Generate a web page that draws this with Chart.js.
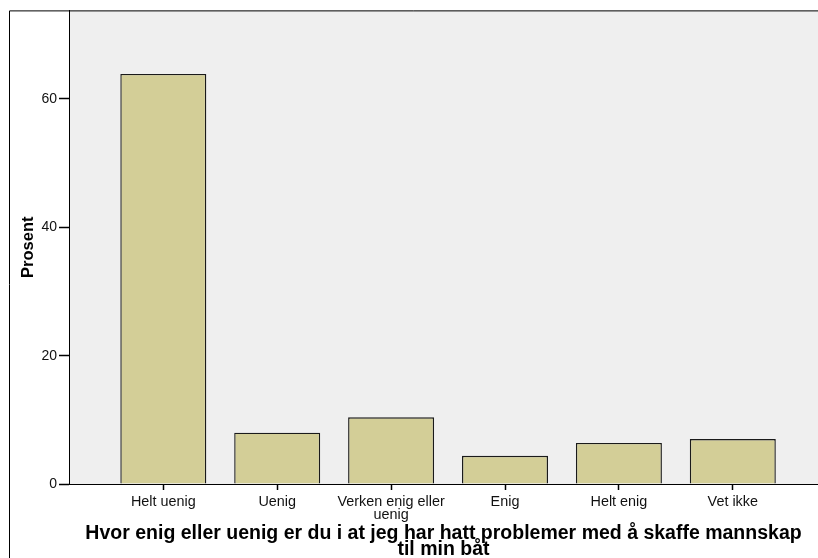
<!DOCTYPE html>
<html>
<head>
<meta charset="utf-8">
<script src="https://cdn.jsdelivr.net/npm/chart.js@4"></script>
<style>
  html, body { margin: 0; padding: 0; background: #ffffff; }
  #wrap { width: 818px; height: 558px; position: relative; }
</style>
</head>
<body>
<div id="wrap"><canvas id="c"></canvas></div>
<script>
const categories = ['Helt uenig', 'Uenig', 'Verken enig eller uenig', 'Enig', 'Helt enig', 'Vet ikke'];
const tickLabels = [['Helt uenig'], ['Uenig'], ['Verken enig eller', 'uenig'], ['Enig'], ['Helt enig'], ['Vet ikke']];
const values = [63.9, 8.0, 10.4, 4.4, 6.4, 7.0];
const yTicks = [0, 20, 40, 60];
const yTitle = 'Prosent';
const xTitle = ['Hvor enig eller uenig er du i at jeg har hatt problemer med å skaffe mannskap', 'til min båt'];

const framePlugin = {
  id: 'frame',
  beforeDraw(chart) {
    const { ctx, chartArea: a } = chart;
    ctx.save();
    ctx.fillStyle = '#efefef';
    ctx.fillRect(a.left, a.top, a.right - a.left, a.bottom - a.top);
    ctx.restore();
  },
  afterDraw(chart) {
    const { ctx, chartArea: a } = chart;
    ctx.save();
    ctx.strokeStyle = '#000';
    ctx.lineWidth = 1;
    ctx.beginPath();
    ctx.moveTo(9.5, chart.height);
    ctx.lineTo(9.5, a.top + 0.5);
    ctx.lineTo(chart.width, a.top + 0.5);
    ctx.stroke();
    ctx.restore();
  }
};

new Chart(document.getElementById('c'), {
  type: 'bar',
  data: {
    datasets: [{
      label: yTitle,
      data: values.map((v, i) => ({ x: i, y: v })),
      backgroundColor: '#d3ce97',
      borderColor: '#1a1a1a',
      borderWidth: 1.4,
      barPercentage: 0.755,
      categoryPercentage: 1
    }]
  },
  options: {
    responsive: true,
    maintainAspectRatio: false,
    animation: false,
    layout: { padding: { top: 10, right: 0, left: 0, bottom: 0 } },
    plugins: { legend: { display: false }, tooltip: { enabled: false } },
    scales: {
      x: {
        type: 'linear',
        offset: false,
        min: -0.828,
        max: 5.748,
        afterBuildTicks: s => { s.ticks = categories.map((c, i) => ({ value: i })); },
        afterFit: s => { s.height = 74; },
        grid: { offset: false, drawOnChartArea: false, tickLength: 6, color: '#000', tickWidth: 1.5 },
        border: { color: '#000', width: 1 },
        ticks: {
          autoSkip: false,
          maxRotation: 0,
          padding: 6,
          color: '#111',
          font: { family: 'Liberation Sans', size: 14.4, lineHeight: 0.9 },
          callback: (v) => tickLabels[v] || ''
        },
        title: {
          display: true,
          text: xTitle,
          color: '#000',
          padding: { top: 0, bottom: 1 },
          font: { family: 'Liberation Sans', size: 19.5, weight: 'bold', lineHeight: 0.8 }
        }
      },
      y: {
        min: 0,
        max: 73.8,
        afterBuildTicks: s => { s.ticks = yTicks.map(v => ({ value: v })); },
        afterFit: s => { s.width = 69; },
        grid: { drawOnChartArea: false, tickLength: 10, color: '#000', tickWidth: 1.5 },
        border: { color: '#000', width: 1 },
        ticks: {
          padding: 2,
          color: '#111',
          font: { family: 'Liberation Sans', size: 14 }
        },
        title: {
          display: true,
          text: yTitle,
          color: '#000',
          padding: { top: 19, bottom: 0 },
          font: { family: 'Liberation Sans', size: 16.5, weight: 'bold' }
        }
      }
    }
  },
  plugins: [framePlugin]
});
</script>
</body>
</html>
